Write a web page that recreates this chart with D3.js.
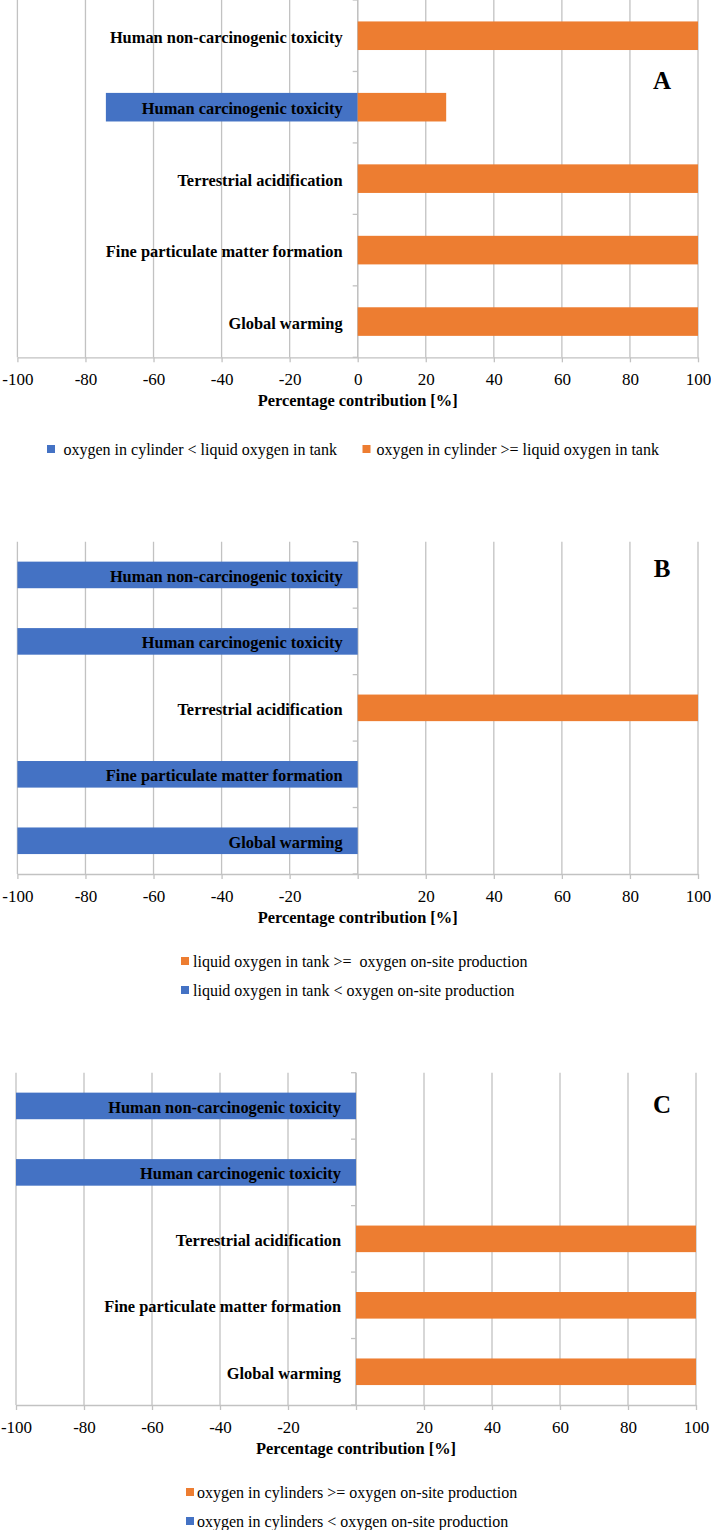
<!DOCTYPE html>
<html>
<head>
<meta charset="utf-8">
<script src="https://cdn.jsdelivr.net/npm/d3@7"></script>
<style>
  html, body { margin: 0; padding: 0; background: #fff; }
  svg text { font-family: "Liberation Serif", "Tinos", "Times New Roman", Times, "DejaVu Serif", serif; white-space: pre; }
</style>
</head>
<body>
<svg id="chart" width="711" height="1530"></svg>
<script>
// ---------- data ----------
const categories = [
  "Human non-carcinogenic toxicity",
  "Human carcinogenic toxicity",
  "Terrestrial acidification",
  "Fine particulate matter formation",
  "Global warming"
];
const xTicks = [-100, -80, -60, -40, -20, 0, 20, 40, 60, 80, 100];
const axisTitle = "Percentage contribution [%]";
const panelLetters = ["A", "B", "C"];

// Panel A
const aLowerValues  = [0, -74, 0, 0, 0];
const aHigherValues = [100, 26, 100, 100, 100];
const legendA = ["oxygen in cylinder < liquid oxygen in tank", "oxygen in cylinder >= liquid oxygen in tank"];

// Panel B
const bHigherValues = [0, 0, 100, 0, 0];
const bLowerValues  = [-100, -100, 0, -100, -100];
const legendB = ["liquid oxygen in tank >=  oxygen on-site production", "liquid oxygen in tank < oxygen on-site production"];

// Panel C
const cHigherValues = [0, 0, 100, 100, 100];
const cLowerValues  = [-100, -100, 0, 0, 0];
const legendC = ["oxygen in cylinders >= oxygen on-site production", "oxygen in cylinders < oxygen on-site production"];

// ---------- styling ----------
const ORANGE = "#ED7D31";
const BLUE = "#4472C4";
const GRID = "#C2C2C2";
const FONT = "'Liberation Serif', 'Tinos', 'Times New Roman', Times, 'DejaVu Serif', serif";

const svg = d3.select("#chart");

const panels = [
  {
    letter: panelLetters[0], top: 0, bottom: 357.3, x0: 17.4, x1: 698,
    series: [{ values: aLowerValues, color: BLUE }, { values: aHigherValues, color: ORANGE }],
    showZero: true,
    letterPos: [662, 89],
    legend: { items: [
      { label: legendA[0], color: BLUE, mx: 47, tx: 63.5, y: 455 },
      { label: legendA[1], color: ORANGE, mx: 362.5, tx: 376.5, y: 455 }
    ]}
  },
  {
    letter: panelLetters[1], top: 541.7, bottom: 874, x0: 17.4, x1: 698,
    series: [{ values: bLowerValues, color: BLUE }, { values: bHigherValues, color: ORANGE }],
    showZero: false,
    letterPos: [662, 577],
    legend: { items: [
      { label: legendB[0], color: ORANGE, mx: 181, tx: 193, y: 967 },
      { label: legendB[1], color: BLUE, mx: 181, tx: 193, y: 996 }
    ]}
  },
  {
    letter: panelLetters[2], top: 1072.7, bottom: 1405, x0: 16, x1: 696,
    series: [{ values: cLowerValues, color: BLUE }, { values: cHigherValues, color: ORANGE }],
    showZero: false,
    letterPos: [662, 1113],
    legend: { items: [
      { label: legendC[0], color: ORANGE, mx: 186, tx: 197, y: 1498 },
      { label: legendC[1], color: BLUE, mx: 186, tx: 197, y: 1527 }
    ]}
  }
];

panels.forEach(p => {
  const g = svg.append("g").attr("font-family", FONT);
  const x = d3.scaleLinear().domain([xTicks[0], xTicks[xTicks.length - 1]]).range([p.x0, p.x1]);
  const y = d3.scaleBand().domain(categories).range([p.top, p.bottom])
    .paddingInner(0.6).paddingOuter(0.3);
  const step = y.step();

  // vertical gridlines
  g.append("g").selectAll("line").data(xTicks).join("line")
    .attr("x1", d => x(d)).attr("x2", d => x(d))
    .attr("y1", p.top).attr("y2", p.bottom)
    .attr("stroke", GRID).attr("stroke-width", 1.3);

  // bottom axis
  const axis = d3.axisBottom(x).tickValues(xTicks)
    .tickFormat(d => (d === 0 && !p.showZero) ? "" : String(d))
    .tickSizeInner(5).tickSizeOuter(0);
  const ax = g.append("g").attr("transform", `translate(0,${p.bottom})`).call(axis);
  ax.attr("font-family", FONT).attr("font-size", 17);
  ax.select(".domain").attr("stroke", GRID).attr("stroke-width", 1.3);
  ax.selectAll(".tick line").attr("stroke", GRID).attr("stroke-width", 1.3);
  ax.selectAll(".tick text")
    .attr("y", 16).attr("dy", "0.71em")
    .attr("fill", "#000")
    .attr("font-family", FONT)
    .style("font-family", FONT)
    .style("font-size", "17px");

  // category axis at zero with left ticks at band boundaries
  const boundaries = categories.map(c => y(c) - y.paddingOuter() * step).concat([p.bottom]);
  g.append("line")
    .attr("x1", x(0)).attr("x2", x(0)).attr("y1", p.top).attr("y2", p.bottom)
    .attr("stroke", GRID).attr("stroke-width", 1.3);
  g.append("g").selectAll("line").data(boundaries).join("line")
    .attr("x1", x(0) - 5).attr("x2", x(0))
    .attr("y1", d => d).attr("y2", d => d)
    .attr("stroke", GRID).attr("stroke-width", 1.3);

  // bars
  p.series.forEach(s => {
    g.append("g").selectAll("rect")
      .data(categories.map((c, i) => ({ c, v: s.values[i] })).filter(d => d.v !== 0))
      .join("rect")
      .attr("x", d => x(Math.min(0, d.v)))
      .attr("width", d => Math.abs(x(d.v) - x(0)))
      .attr("y", d => y(d.c))
      .attr("height", y.bandwidth())
      .attr("fill", s.color);
  });

  // category labels
  g.append("g").selectAll("text").data(categories).join("text")
    .attr("x", x(0) - 15)
    .attr("y", d => y(d) + y.bandwidth() / 2 + 7)
    .attr("text-anchor", "end")
    .style("font-family", FONT)
    .style("font-size", "16.4px")
    .style("font-weight", "bold")
    .attr("fill", "#000")
    .text(d => d);

  // axis title
  g.append("text")
    .attr("x", x(0)).attr("y", p.bottom + 49)
    .attr("text-anchor", "middle")
    .style("font-family", FONT)
    .style("font-size", "16.4px").style("font-weight", "bold")
    .text(axisTitle);

  // panel letter
  g.append("text")
    .attr("x", p.letterPos[0]).attr("y", p.letterPos[1])
    .attr("text-anchor", "middle")
    .style("font-family", FONT)
    .style("font-size", "25px").style("font-weight", "bold")
    .text(p.letter);

  // legend
  const lg = g.append("g");
  p.legend.items.forEach(it => {
    lg.append("rect")
      .attr("x", it.mx).attr("y", it.y - 10)
      .attr("width", 8).attr("height", 8)
      .attr("fill", it.color);
    lg.append("text")
      .attr("x", it.tx).attr("y", it.y)
      .style("font-family", FONT)
      .style("font-size", "16px")
      .attr("fill", "#000")
      .text(it.label);
  });
});
</script>
</body>
</html>
